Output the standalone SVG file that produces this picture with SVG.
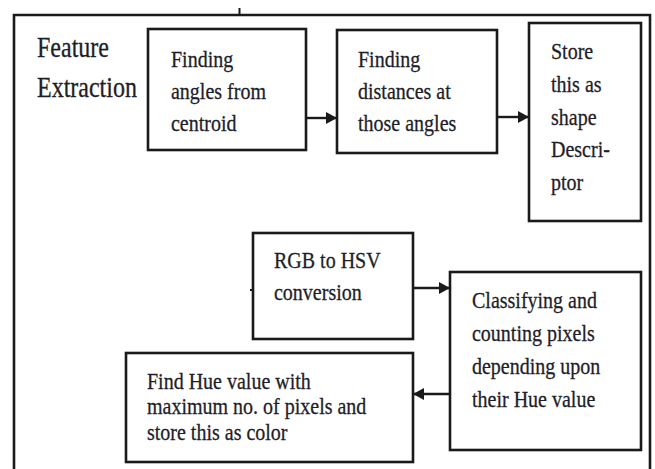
<svg xmlns="http://www.w3.org/2000/svg" width="655" height="469" viewBox="0 0 655 469">
<defs>
<marker id="ah" viewBox="0 0 11 12" refX="11" refY="6" markerWidth="11" markerHeight="12" markerUnits="userSpaceOnUse" orient="auto">
<path d="M0,0 L11,6 L0,12 Z" fill="#1a1a1a"/>
</marker>
<style>
.box{fill:#fff;stroke:#1a1a1a;stroke-width:2.6}
.frame{fill:none;stroke:#1a1a1a;stroke-width:2.6}
.t{font-family:"Liberation Serif","Times New Roman",serif;font-size:20px;fill:#1e1e28;stroke:#1e1e28;stroke-width:0.25}
.title{font-family:"Liberation Serif","Times New Roman",serif;font-size:24px;fill:#1e1e28;stroke:#1e1e28;stroke-width:0.25}
.conn{stroke:#1a1a1a;stroke-width:2.4;fill:none}
</style>
</defs>
<rect width="655" height="469" fill="#fff"/>
<g id="frame">
<path class="frame" d="M14,475 L14,15 L650,15 L650,475"/>
<line x1="239.5" y1="8" x2="239.5" y2="15" stroke="#1a1a1a" stroke-width="2"/>
<text class="title" transform="translate(37,57) scale(1,1.2)"><tspan x="0" y="0">Feature</tspan><tspan x="0" dy="33.3">Extraction</tspan></text>
</g>
<g id="n1">
<rect class="box" x="148" y="29" width="158" height="121"/>
<text class="t" transform="translate(171,66.5) scale(1,1.15)"><tspan x="0" y="0">Finding</tspan><tspan x="0" dy="28">angles from</tspan><tspan x="0" dy="28">centroid</tspan></text>
</g>
<g id="n2">
<rect class="box" x="337" y="30" width="160" height="123"/>
<text class="t" transform="translate(358,67) scale(1,1.15)"><tspan x="0" y="0">Finding</tspan><tspan x="0" dy="28">distances at</tspan><tspan x="0" dy="28">those angles</tspan></text>
</g>
<g id="n3">
<rect class="box" x="529" y="23" width="112" height="198"/>
<text class="t" transform="translate(551,59) scale(1,1.15)"><tspan x="0" y="0">Store</tspan><tspan x="0" dy="28.5">this as</tspan><tspan x="0" dy="28.5">shape</tspan><tspan x="0" dy="28.5">Descri-</tspan><tspan x="0" dy="28.5">ptor</tspan></text>
</g>
<g id="n4">
<rect class="box" x="253" y="233" width="160" height="106"/>
<line x1="250" y1="290" x2="253" y2="290" stroke="#1a1a1a" stroke-width="2"/>
<text class="t" transform="translate(274,268) scale(1,1.15)"><tspan x="0" y="0">RGB to HSV</tspan><tspan x="0" dy="27.8">conversion</tspan></text>
</g>
<g id="n5">
<rect class="box" x="450" y="272" width="191" height="178"/>
<text class="t" transform="translate(472,308) scale(1,1.15)"><tspan x="0" y="0">Classifying and</tspan><tspan x="0" dy="28.7">counting pixels</tspan><tspan x="0" dy="28.7">depending upon</tspan><tspan x="0" dy="28.7">their Hue value</tspan></text>
</g>
<g id="n6">
<rect class="box" x="126" y="353" width="287" height="109"/>
<text class="t" transform="translate(147,389) scale(1,1.15)"><tspan x="0" y="0">Find Hue value with</tspan><tspan x="0" dy="22">maximum no. of pixels and</tspan><tspan x="0" dy="22">store this as color</tspan></text>
</g>
<g id="connectors">
<line class="conn" x1="306" y1="118" x2="337" y2="118" marker-end="url(#ah)"/>
<line class="conn" x1="497" y1="117" x2="529" y2="117" marker-end="url(#ah)"/>
<line class="conn" x1="413" y1="288" x2="450" y2="288" marker-end="url(#ah)"/>
<line class="conn" x1="450" y1="394" x2="413" y2="394" marker-end="url(#ah)"/>
</g>
</svg>
